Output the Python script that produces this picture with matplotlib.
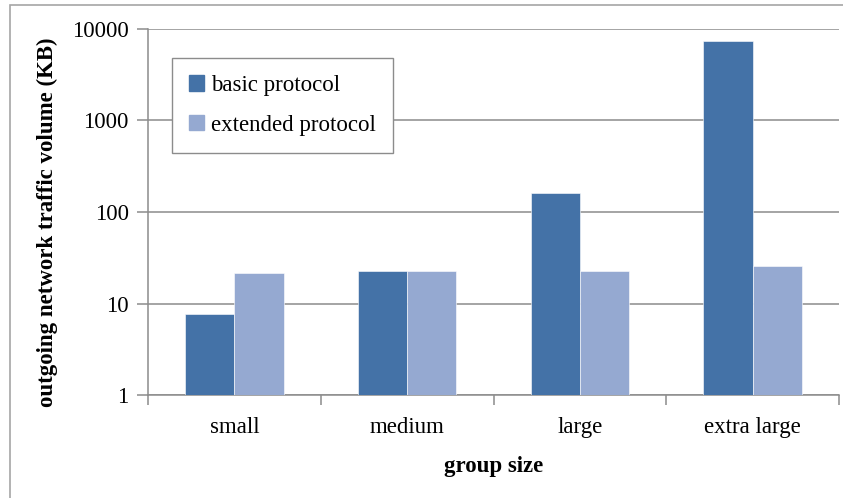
import matplotlib.pyplot as plt
from matplotlib.patches import Rectangle, Patch
import numpy as np

# data
groups = ['small', 'medium', 'large', 'extra large']
basic_protocol = [7.7, 22.8, 160, 7400]
extended_protocol = [21.4, 22.6, 22.7, 25.7]
series_names = ['basic protocol', 'extended protocol']

basic_color = '#4472A7'
extended_color = '#95A9D1'
grid_color = '#8C8C8C'

plt.rcParams['font.family'] = ['Liberation Serif', 'DejaVu Serif']
fs = 16.5

fig = plt.figure(figsize=(8.43, 4.98), dpi=100)
W, H = 843, 498

# axes placed in pixel coordinates of the reference
left, right, top, bottom = 148, 839, 29, 395
ax = fig.add_axes([left / W, 1 - bottom / H, (right - left) / W, (bottom - top) / H])

# outer chart frame
fig.patches.append(Rectangle((10 / W, -0.1), 1.2, 1 - 5 / H + 0.1, transform=fig.transFigure,
                             fill=False, edgecolor='#A6A6A6', linewidth=1.2, clip_on=False))

x = np.arange(len(groups))
width = 0.285
ax.bar(x - width / 2, basic_protocol, width, color=basic_color, edgecolor='white', linewidth=0.4, zorder=3)
ax.bar(x + width / 2, extended_protocol, width, color=extended_color, edgecolor='white', linewidth=0.4, zorder=3)

ax.set_yscale('log')
ax.set_ylim(1, 10000)
ax.set_xlim(-0.5, len(groups) - 0.5)
ax.set_yticks([1, 10, 100, 1000, 10000])
ax.set_yticklabels(['1', '10', '100', '1000', '10000'], fontsize=fs)
ax.minorticks_off()
ax.yaxis.grid(True, color=grid_color, linewidth=1.1, zorder=0)

# category labels between boundary ticks
ax.set_xticks(np.arange(-0.5, len(groups)), minor=False)
ax.set_xticklabels([])
ax.tick_params(axis='x', length=7, color=grid_color, width=1.1, direction='out')
ax.tick_params(axis='y', length=8, color=grid_color, width=1.1, direction='out', pad=6)
for xi, name in zip(x, groups):
    ax.text(xi, -0.09, name, transform=ax.get_xaxis_transform(), ha='center', va='center', fontsize=fs)

for side in ['top', 'right']:
    ax.spines[side].set_visible(False)
for side in ['left', 'bottom']:
    ax.spines[side].set_color(grid_color)
    ax.spines[side].set_linewidth(1.1)

fig.text(47 / W, 1 - 222 / H, 'outgoing network traffic volume (KB)', rotation=90,
         ha='center', va='center', fontsize=fs, fontweight='bold')
fig.text(494 / W, 1 - 466 / H, 'group size', ha='center', va='center', fontsize=fs, fontweight='bold')

handles = [Patch(color=basic_color), Patch(color=extended_color)]
leg = ax.legend(handles, series_names, loc='upper left',
                bbox_to_anchor=((172 - left) / (right - left), 1 - (58 - top) / (bottom - top)),
                fontsize=fs, frameon=True, fancybox=False, edgecolor='#8C8C8C', framealpha=1,
                handlelength=0.65, handleheight=0.65, handletextpad=0.3, labelspacing=0.8,
                borderpad=0.75, borderaxespad=0)
leg.get_frame().set_linewidth(1.0)

fig.savefig('out.png', dpi=100)
